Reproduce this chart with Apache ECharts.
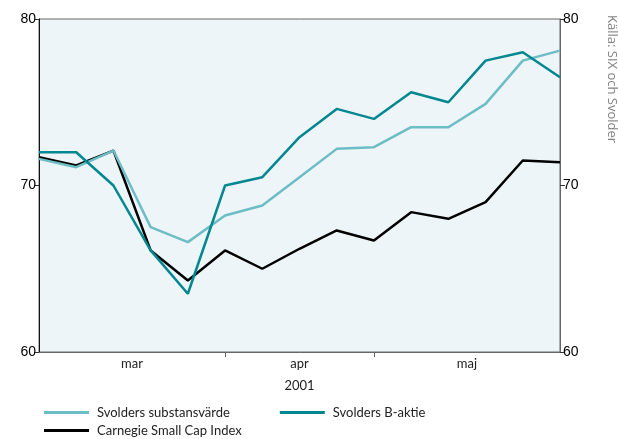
<!DOCTYPE html>
<html>
<head>
<meta charset="utf-8">
<script src="https://cdn.jsdelivr.net/npm/echarts@6/dist/echarts.min.js"></script>
<style>
  html, body { margin: 0; padding: 0; background: #fff; }
  #main { width: 618px; height: 439px; }
</style>
</head>
<body>
<div id="main"></div>
<script>
// weekly points, index 0..14
var substans = [71.6, 71.1, 72.1, 67.5, 66.6, 68.2, 68.8, 70.5, 72.2, 72.3, 73.5, 73.5, 74.9, 77.5, 78.1];
var baktie = [72.0, 72.0, 70.0, 66.1, 63.5, 70.0, 70.5, 72.9, 74.6, 74.0, 75.6, 75.0, 77.5, 78.0, 76.5];
var carnegie = [71.7, 71.2, 72.1, 66.1, 64.3, 66.1, 65.0, 66.2, 67.3, 66.7, 68.4, 68.0, 69.0, 71.5, 71.4];
var monthNames = ["mar", "apr", "maj"];
var monthLabelPos = [2.5, 7, 11.5];
var monthTicks = [5, 9];
var yTicks = [60, 70, 80];

var names = ["Svolders substansvärde", "Svolders B-aktie", "Carnegie Small Cap Index"];
var colors = ["#6dbdc5", "#00878f", "#000000"];

function pairs(arr) {
  return arr.map(function (v, i) { return [i, v]; });
}

var myChart = echarts.init(document.getElementById("main"));

var yAxisBase = {
  type: "value",
  min: yTicks[0],
  max: yTicks[yTicks.length - 1],
  interval: 10,
  splitLine: { show: false },
  axisTick: { show: true, length: 5, lineStyle: { color: "#333" } },
  axisLabel: { color: "#000", fontSize: 14, fontFamily: "Liberation Sans", margin: 3 }
};

var option = {
  animation: false,
  color: colors,
  grid: {
    left: 39,
    right: 58,
    top: 19,
    bottom: 87,
    show: true,
    backgroundColor: "#edf5f9",
    borderColor: "#666",
    borderWidth: 1
  },
  legend: [
    {
      data: [names[0], names[1]],
      left: 39,
      top: 401,
      icon: "rect",
      itemWidth: 45,
      itemHeight: 3,
      itemGap: 50,
      textStyle: { fontSize: 13, color: "#222", fontFamily: "Lato", padding: [0, 0, 0, 3] }
    },
    {
      data: [names[2]],
      left: 39,
      top: 419,
      icon: "rect",
      itemWidth: 45,
      itemHeight: 3,
      textStyle: { fontSize: 13, color: "#222", fontFamily: "Lato", padding: [0, 0, 0, 3] }
    }
  ],
  xAxis: {
    type: "value",
    min: 0,
    max: substans.length - 1,
    name: "2001",
    nameLocation: "middle",
    nameGap: 27,
    nameTextStyle: { fontSize: 13, color: "#222", fontFamily: "Lato" },
    splitLine: { show: false },
    axisLine: { lineStyle: { color: "#666" } },
    axisTick: { show: true, length: 5, customValues: monthTicks, lineStyle: { color: "#666" } },
    axisLabel: {
      customValues: monthLabelPos,
      fontSize: 13,
      color: "#222",
      fontFamily: "Lato",
      margin: 5,
      formatter: function (v) {
        var i = monthLabelPos.indexOf(v);
        return i >= 0 ? monthNames[i] : "";
      }
    }
  },
  yAxis: [
    Object.assign({}, yAxisBase, {
      position: "left",
      axisLine: { show: true, lineStyle: { color: "#111" } }
    }),
    Object.assign({}, yAxisBase, {
      position: "right",
      axisLine: { show: true, lineStyle: { color: "#666" } }
    })
  ],
  graphic: [
    {
      type: "text",
      x: 612,
      y: 15,
      rotation: -Math.PI / 2,
      style: {
        text: "Källa: SIX och Svolder",
        fill: "#808080",
        fontSize: 13,
        fontFamily: "Open Sans",
        align: "left",
        verticalAlign: "middle"
      }
    }
  ],
  series: [
    {
      name: names[0],
      type: "line",
      symbol: "none",
      lineStyle: { width: 2.5 },
      data: pairs(substans)
    },
    {
      name: names[1],
      type: "line",
      symbol: "none",
      lineStyle: { width: 2.5 },
      data: pairs(baktie)
    },
    {
      name: names[2],
      type: "line",
      symbol: "none",
      lineStyle: { width: 2.5 },
      z: 1,
      data: pairs(carnegie)
    }
  ]
};

myChart.setOption(option);
</script>
</body>
</html>
